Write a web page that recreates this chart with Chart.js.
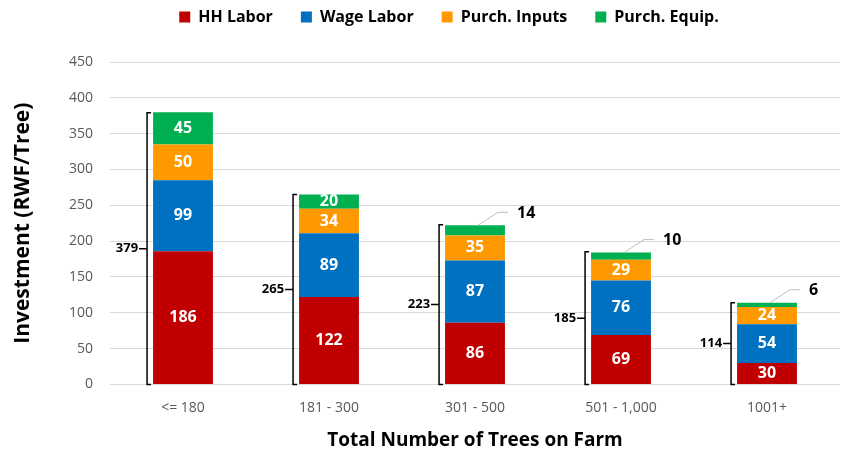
<!DOCTYPE html>
<html>
<head>
<meta charset="utf-8">
<script src="https://cdn.jsdelivr.net/npm/chart.js@4.4.0/dist/chart.umd.min.js"></script>
<style>
  body { margin: 0; background: #fff; }
  #wrap { width: 841px; height: 452px; }
</style>
</head>
<body>
<div id="wrap"><canvas id="chart"></canvas></div>
<script>
// data set
var categories = ['<= 180', '181 - 300', '301 - 500', '501 - 1,000', '1001+'];
var hhLabor = [186, 122, 86, 69, 30];
var wageLabor = [99, 89, 87, 76, 54];
var purchInputs = [50, 34, 35, 29, 24];
var purchEquip = [45, 20, 14, 10, 6];
var totals = [379, 265, 223, 185, 114];

const font = "'Open Sans', 'Liberation Sans', sans-serif";

// legend room and position
const legendSpace = {
  id: 'legendSpace',
  beforeInit(chart) {
    const fit = chart.legend.fit;
    chart.legend.fit = function () {
      fit.bind(chart.legend)();
      this.height += 4;
    };
  },
  afterLayout(chart) {
    const lg = chart.legend;
    lg.left += 26; lg.right += 26;
    lg.top -= 23; lg.bottom -= 23;
  }
};

// labels inside segments, callouts for small ones, and total brackets
const annotate = {
  id: 'annotate',
  afterDatasetsDraw(chart) {
    const ctx = chart.ctx;
    const y = chart.scales.y;
    ctx.save();
    chart.data.datasets.forEach((ds, di) => {
      const meta = chart.getDatasetMeta(di);
      meta.data.forEach((bar, i) => {
        const v = ds.data[i];
        if (v >= 15) {
          ctx.fillStyle = '#fff';
          ctx.font = 'bold 16px ' + font;
          ctx.textAlign = 'center';
          ctx.textBaseline = 'middle';
          ctx.fillText(v, bar.x, (bar.y + bar.base) / 2);
        } else {
          // leader line to the label
          ctx.strokeStyle = '#bfbfbf';
          ctx.lineWidth = 1;
          ctx.beginPath();
          ctx.moveTo(bar.x + 3, bar.y);
          ctx.lineTo(bar.x + 23, bar.y - 13);
          ctx.lineTo(bar.x + 33, bar.y - 13);
          ctx.stroke();
          ctx.fillStyle = '#000';
          ctx.font = 'bold 16px ' + font;
          ctx.textAlign = 'left';
          ctx.textBaseline = 'middle';
          ctx.fillText(v, bar.x + 42, bar.y - 12);
        }
      });
    });
    // brackets with totals
    const meta0 = chart.getDatasetMeta(0);
    meta0.data.forEach((bar, i) => {
      const left = bar.x - bar.width / 2 - 6;
      const top = y.getPixelForValue(totals[i]);
      const bot = y.getPixelForValue(0);
      const mid = (top + bot) / 2;
      ctx.strokeStyle = '#000';
      ctx.lineWidth = 1.5;
      ctx.beginPath();
      ctx.moveTo(left + 4, top);
      ctx.lineTo(left, top);
      ctx.lineTo(left, bot);
      ctx.lineTo(left + 4, bot);
      ctx.moveTo(left, mid);
      ctx.lineTo(left - 8, mid);
      ctx.stroke();
      ctx.fillStyle = '#000';
      ctx.font = 'bold 13px ' + font;
      ctx.textAlign = 'right';
      ctx.textBaseline = 'middle';
      ctx.fillText(totals[i], left - 9, mid);
    });
    ctx.restore();
  }
};

new Chart('chart', {
  type: 'bar',
  data: {
    labels: categories,
    datasets: [
      { label: 'HH Labor', data: hhLabor, backgroundColor: '#C00000' },
      { label: 'Wage Labor', data: wageLabor, backgroundColor: '#0070C0' },
      { label: 'Purch. Inputs', data: purchInputs, backgroundColor: '#FF9900' },
      { label: 'Purch. Equip.', data: purchEquip, backgroundColor: '#00B050' }
    ]
  },
  options: {
    responsive: true,
    maintainAspectRatio: false,
    animation: false,
    layout: { padding: { top: 4, right: 1, left: 6, bottom: 0 } },
    datasets: { bar: { barPercentage: 0.41, categoryPercentage: 1 } },
    plugins: {
      legend: {
        position: 'top',
        labels: {
          boxWidth: 11, boxHeight: 11, padding: 28,
          color: '#000',
          font: { family: font, size: 16, weight: 'bold' }
        }
      },
      tooltip: { enabled: false }
    },
    scales: {
      x: {
        stacked: true,
        grid: { display: false },
        border: { display: false },
        ticks: { color: '#595959', padding: 7, font: { family: font, size: 14 } },
        title: {
          display: true, text: 'Total Number of Trees on Farm', color: '#000',
          font: { family: font, size: 19, weight: 'bold' }, padding: { top: 6, bottom: 0 }
        }
      },
      y: {
        stacked: true,
        min: 0, max: 450,
        grid: { color: '#d9d9d9', drawTicks: false },
        border: { display: false },
        afterFit(scale) { scale.width = 104; },
        ticks: { stepSize: 50, color: '#595959', padding: 17, font: { family: font, size: 14 } },
        title: {
          display: true, text: 'Investment (RWF/Tree)', color: '#000',
          font: { family: font, size: 21, weight: 'bold' }, padding: { bottom: 8 }
        }
      }
    }
  },
  plugins: [legendSpace, annotate]
});
</script>
</body>
</html>
